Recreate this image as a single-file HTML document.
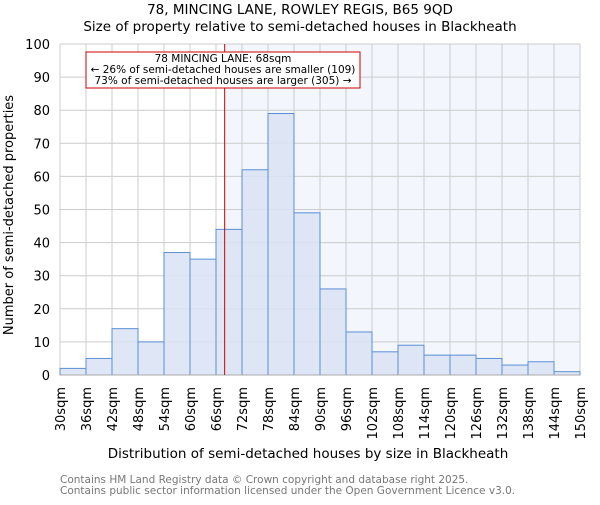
<!DOCTYPE html>
<html><head><meta charset="utf-8"><style>
body{margin:0;background:#fff}
svg{font-family:"DejaVu Sans","Liberation Sans",sans-serif}
</style></head><body>
<svg id="c" width="600" height="500">
<text x="300" y="14" font-size="13.5" text-anchor="middle">78, MINCING LANE, ROWLEY REGIS, B65 9QD</text>
<text x="300" y="31" font-size="13.5" text-anchor="middle">Size of property relative to semi-detached houses in Blackheath</text>
<g id="plot"></g>
<text x="308" y="458" font-size="13.5" text-anchor="middle">Distribution of semi-detached houses by size in Blackheath</text>
<text transform="translate(13,215) rotate(-90)" font-size="13" text-anchor="middle">Number of semi-detached properties</text>
<text x="60" y="483" font-size="10.5" fill="#777">Contains HM Land Registry data © Crown copyright and database right 2025.</text>
<text x="60" y="494" font-size="10.5" fill="#777">Contains public sector information licensed under the Open Government Licence v3.0.</text>
</svg>
<script>
const binEdges=[30,36,42,48,54,60,66,72,78,84,90,96,102,108,114,120,126,132,138,144,150];
const counts=[2,5,14,10,37,35,44,62,79,49,26,13,7,9,6,6,5,3,4,1];
const yTicks=[0,10,20,30,40,50,60,70,80,90,100];
const markerValue=68;
const L=60,R=580,T=44,B=375;
const xs=v=>L+(v-30)/(150-30)*(R-L);
const ys=v=>B-v/100*(B-T);
const g=document.getElementById('plot');
const NS='http://www.w3.org/2000/svg';
function mk(t,a){const e=document.createElementNS(NS,t);for(const k in a)e.setAttribute(k,a[k]);g.appendChild(e);return e;}
let e=mk('rect',{x:xs(markerValue),y:T,width:R-xs(markerValue),height:B-T,fill:'#f3f6fd'});


yTicks.forEach(t=>{
 let l=mk('line',{x1:L,x2:R,y1:ys(t),y2:ys(t),stroke:'#cccccc'});
 
 
 let tx=mk('text',{x:L-10,y:ys(t)+5,'font-size':13,'text-anchor':'end'});tx.textContent=t;
 
 
});
binEdges.forEach(v=>{
 let l=mk('line',{x1:xs(v),x2:xs(v),y1:T,y2:B,stroke:'#cccccc'});
 
 
 let tx=mk('text',{transform:`translate(${xs(v)+5},${B+12}) rotate(-90)`,'font-size':13,'text-anchor':'end'});tx.textContent=v+'sqm';
 
 
});
counts.forEach((c,i)=>{
 let r=mk('rect',{x:xs(binEdges[i]),y:ys(c),width:xs(binEdges[i+1])-xs(binEdges[i]),height:B-ys(c),fill:'#d9e3f4',stroke:'#5b8fd6','stroke-width':1,'fill-opacity':0.85});
 
 
});
e=mk('line',{x1:L,x2:R,y1:B,y2:B,stroke:'#aaa'});


e=mk('line',{x1:xs(markerValue),x2:xs(markerValue),y1:T,y2:B,stroke:'#cc0000','stroke-width':1});


e=mk('rect',{x:86,y:52,width:274,height:36,fill:'#fff',stroke:'#cc0000'});


['78 MINCING LANE: 68sqm','← 26% of semi-detached houses are smaller (109)','73% of semi-detached houses are larger (305) →'].forEach((s,i)=>{
 let t=mk('text',{x:223,y:62+i*11,'font-size':10.5,'text-anchor':'middle'});t.textContent=s;
 
 
});
</script>
</body></html>
